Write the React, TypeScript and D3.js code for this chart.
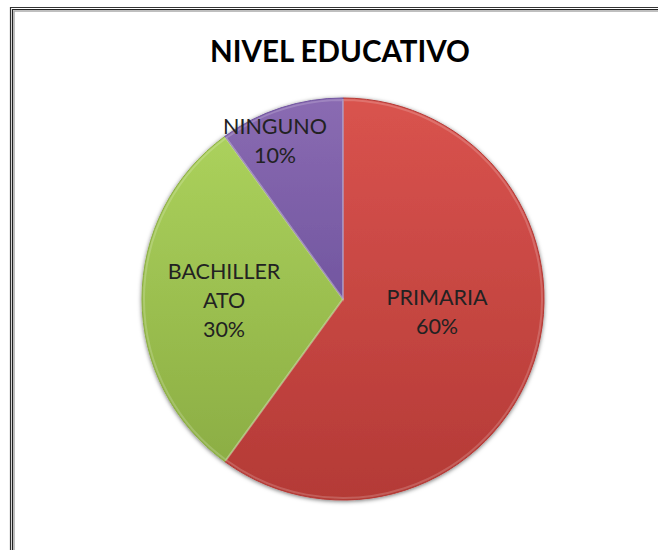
import { useMemo } from "react";
import * as d3 from "d3";

// slice data
const categories = ["PRIMARIA", "BACHILLERATO", "NINGUNO"];
const values = [60, 30, 10];
// how each label is broken into lines (Excel wraps BACHILLERATO)
const labelLines = [["PRIMARIA"], ["BACHILLER", "ATO"], ["NINGUNO"]];
const percentLabels = ["60%", "30%", "10%"];

const colorsTop = ["#d9534e", "#abd15c", "#8a6bb2"];
const colorsBottom = ["#b43a36", "#8cae44", "#7256a0"];

// label block centres, offset from the pie centre (Excel best-fit placement)
const labelOffsets: [number, number][] = [
  [94, 12],
  [-119, 1],
  [-68, -159],
];

const W = 658;
const H = 550;
const cx = 343;
const cy = 299;
const R = 201;
const lineH = 29;

const App = () => {
  const arcs = useMemo(() => {
    const pie = d3
      .pie<number>()
      .sort(null)
      .startAngle(0)
      .endAngle(2 * Math.PI)
      .value((d) => d);
    return pie(values);
  }, []);

  const arc = d3.arc<d3.PieArcDatum<number>>().innerRadius(0).outerRadius(R);
  const rim = d3.arc<d3.PieArcDatum<number>>().innerRadius(0).outerRadius(R - 2);

  return (
    <svg
      width={W}
      height={H}
      style={{ position: "absolute", left: 0, top: 0, background: "#fff" }}
      fontFamily="Lato, 'Open Sans', sans-serif"
    >
      <defs>
        {categories.map((c, i) => (
          <linearGradient key={c} id={`g${i}`} x1="0" y1="0" x2="0" y2="1">
            <stop offset="0%" stopColor={colorsTop[i]} />
            <stop offset="100%" stopColor={colorsBottom[i]} />
          </linearGradient>
        ))}
        <filter id="shadow" x="-10%" y="-10%" width="120%" height="120%">
          <feDropShadow dx="0" dy="1" stdDeviation="2.2" floodColor="#000" floodOpacity="0.55" />
        </filter>
      </defs>

      {/* frame: double line, only left and top are visible */}
      <path d={`M10.5,${H} V7.5 H${W}`} fill="none" stroke="#333" strokeWidth={1.2} />
      <path d={`M12.5,${H} V9.5 H${W}`} fill="none" stroke="#222" strokeWidth={1.2} />
      <path d={`M14,${H} V11 H${W}`} fill="none" stroke="#aaa" strokeWidth={1.5} />

      <text
        x={340}
        y={62}
        textAnchor="middle"
        fontSize={29.5}
        fontWeight="bold"
        fill="#000"
      >
        NIVEL EDUCATIVO
      </text>

      <g transform={`translate(${cx},${cy})`} filter="url(#shadow)">
        {arcs.map((a, i) => (
          <path
            key={categories[i]}
            d={arc(a) ?? ""}
            fill={`url(#g${i})`}
            stroke={colorsBottom[i]}
            strokeWidth={1}
          />
        ))}
      </g>
      {/* light bevel rim on each slice */}
      <g transform={`translate(${cx},${cy})`}>
        {arcs.map((a, i) => (
          <path
            key={categories[i]}
            d={rim(a) ?? ""}
            fill="none"
            stroke="#fff"
            strokeOpacity={0.18}
            strokeWidth={2}
          />
        ))}
      </g>

      <g transform={`translate(${cx},${cy})`}>
        {arcs.map((a, i) => {
          const lines = [...labelLines[i], percentLabels[i]];
          const [ox, oy] = labelOffsets[i];
          const y0 = oy - ((lines.length - 1) * lineH) / 2;
          return (
            <text
              key={categories[i]}
              x={ox}
              y={y0}
              textAnchor="middle"
              dominantBaseline="central"
              fontSize={21.5}
              fill="#222"
            >
              {lines.map((l, j) => (
                <tspan key={j} x={ox} y={y0 + j * lineH}>
                  {l}
                </tspan>
              ))}
            </text>
          );
        })}
      </g>
    </svg>
  );
};

export default App;
